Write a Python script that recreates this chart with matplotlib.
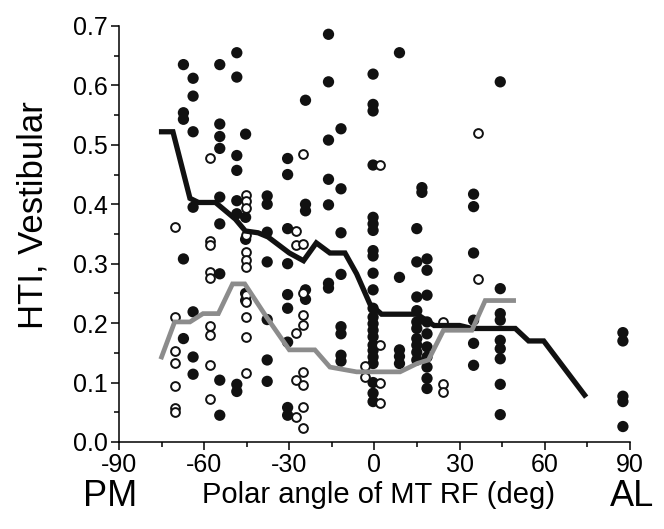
import matplotlib
matplotlib.use('Agg')
import matplotlib.pyplot as plt
from matplotlib.ticker import MultipleLocator, FormatStrFormatter

plt.rcParams['font.family'] = ['Liberation Sans', 'DejaVu Sans']
plt.rcParams['axes.unicode_minus'] = False

# ── data ───────────────────────────────────────────────────────────────────────

# filled circles, grouped by polar-angle column
filled_cols = {
    -67.3: [0.635, 0.554, 0.543, 0.308, 0.174],
    -63.9: [0.612, 0.582, 0.522, 0.395, 0.219, 0.143, 0.114],
    -54.5: [0.635, 0.535, 0.514, 0.494, 0.412, 0.367, 0.283, 0.104, 0.045],
    -48.5: [0.655, 0.614, 0.482, 0.457, 0.406, 0.384, 0.097, 0.085],
    -45.4: [0.518, 0.378, 0.341, 0.250, 0.238],
    -37.8: [0.414, 0.400, 0.353, 0.303, 0.206, 0.138, 0.102],
    -30.6: [0.477, 0.450, 0.359, 0.300, 0.248, 0.225, 0.168, 0.058, 0.045],
    -24.3: [0.575, 0.400, 0.389, 0.256, 0.240],
    -16.2: [0.686, 0.606, 0.508, 0.442, 0.399, 0.267, 0.259],
    -11.8: [0.527, 0.426, 0.352, 0.282, 0.194, 0.182, 0.146, 0.136],
    -0.5: [0.619, 0.568, 0.557, 0.466, 0.378, 0.367, 0.356, 0.322, 0.313,
           0.284, 0.256, 0.225, 0.210, 0.199, 0.188, 0.177, 0.163, 0.154,
           0.143, 0.132, 0.100, 0.082, 0.068],
    8.8: [0.655, 0.277, 0.155, 0.144, 0.132],
    14.9: [0.359, 0.303, 0.244, 0.221, 0.202, 0.191, 0.174, 0.163, 0.151, 0.138],
    16.7: [0.428, 0.420],
    18.5: [0.308, 0.289, 0.247, 0.202, 0.182, 0.160, 0.143, 0.126, 0.107, 0.090],
    34.9: [0.417, 0.396, 0.318, 0.205, 0.166, 0.129],
    44.3: [0.606, 0.258, 0.216, 0.205, 0.171, 0.157, 0.140, 0.097, 0.046],
    87.5: [0.184, 0.170, 0.077, 0.068, 0.026],
}

# open circles
open_cols = {
    -70.4: [0.362, 0.210, 0.153, 0.133, 0.094, 0.057, 0.051],
    -58.0: [0.478, 0.339, 0.332, 0.286, 0.276, 0.195, 0.180, 0.129, 0.073],
    -45.4: [0.416, 0.405, 0.393, 0.349, 0.320, 0.307, 0.294, 0.247, 0.235,
            0.210, 0.177, 0.116],
    -27.5: [0.355, 0.331, 0.183, 0.104, 0.042],
    -25.1: [0.485, 0.333, 0.250, 0.213, 0.197, 0.118, 0.096, 0.059, 0.023],
    -3.4: [0.128, 0.110],
    1.9: [0.466, 0.163, 0.099, 0.066],
    24.0: [0.202, 0.098, 0.084],
    36.3: [0.520, 0.275],
}

# running averages
black_x = [-75, -71, -65, -62, -56, -49, -45.5, -41, -37.5, -30, -25, -20.5,
           -15.7, -10.4, -6.3, -1.6, 2.5, 15, 21, 30, 34.3, 49.6, 54.3, 59.6, 74]
black_y = [0.522, 0.522, 0.410, 0.403, 0.403, 0.375, 0.355, 0.352, 0.345,
           0.318, 0.305, 0.335, 0.318, 0.318, 0.283, 0.232, 0.215, 0.215,
           0.196, 0.196, 0.191, 0.191, 0.170, 0.170, 0.079]

gray_x = [-75, -70.4, -65, -60.4, -55, -50, -45.7, -38, -30, -21, -15.7,
          -6.3, 9, 15, 19, 24.3, 34.3, 39, 49]
gray_y = [0.143, 0.202, 0.202, 0.216, 0.216, 0.266, 0.266, 0.210, 0.155,
          0.155, 0.126, 0.118, 0.118, 0.132, 0.138, 0.188, 0.188, 0.238, 0.238]


def _flatten(cols):
    xs, ys = [], []
    for x, vals in cols.items():
        xs += [x] * len(vals)
        ys += vals
    return xs, ys


fx, fy = _flatten(filled_cols)
ox, oy = _flatten(open_cols)

fig = plt.figure(figsize=(6.64, 5.29), dpi=100)
ax = fig.add_axes([0.1792, 0.1645, 0.7696, 0.7864])

ax.scatter(fx, fy, s=66, color='#111111', edgecolors='none', zorder=3, clip_on=False)
ax.scatter(ox, oy, s=40, facecolors='white', edgecolors='#111111',
           linewidths=1.4, zorder=4, clip_on=False)
ax.plot(black_x, black_y, color='#111111', linewidth=3.8, zorder=5,
        solid_joinstyle='miter')
ax.plot(gray_x, gray_y, color='#8c8c8c', linewidth=3.4, zorder=6,
        solid_joinstyle='miter')

ax.set_xlim(-90, 90)
ax.set_ylim(0, 0.7)
ax.xaxis.set_major_locator(MultipleLocator(30))
ax.xaxis.set_minor_locator(MultipleLocator(15))
ax.yaxis.set_major_locator(MultipleLocator(0.1))
ax.yaxis.set_minor_locator(MultipleLocator(0.05))
ax.yaxis.set_major_formatter(FormatStrFormatter('%.1f'))

for side in ('top', 'right'):
    ax.spines[side].set_visible(False)
for side in ('left', 'bottom'):
    ax.spines[side].set_linewidth(1.1)

ax.tick_params(which='major', direction='out', length=6, width=1.1,
               labelsize=18, pad=2)
ax.tick_params(which='minor', direction='out', length=3.5, width=1.1)

fig.text(0.05, 1 - 215 / 529, 'HTI, Vestibular', rotation=90,
         ha='center', va='center', fontsize=25)
fig.text(110 / 664, 1 - 506 / 529, 'PM', ha='center', va='baseline', fontsize=26)
fig.text(632 / 664, 1 - 506 / 529, 'AL', ha='center', va='baseline', fontsize=26)
fig.text(378 / 664, 1 - 503 / 529, 'Polar angle of MT RF (deg)',
         ha='center', va='baseline', fontsize=21)

fig.savefig('out.png', dpi=100)
